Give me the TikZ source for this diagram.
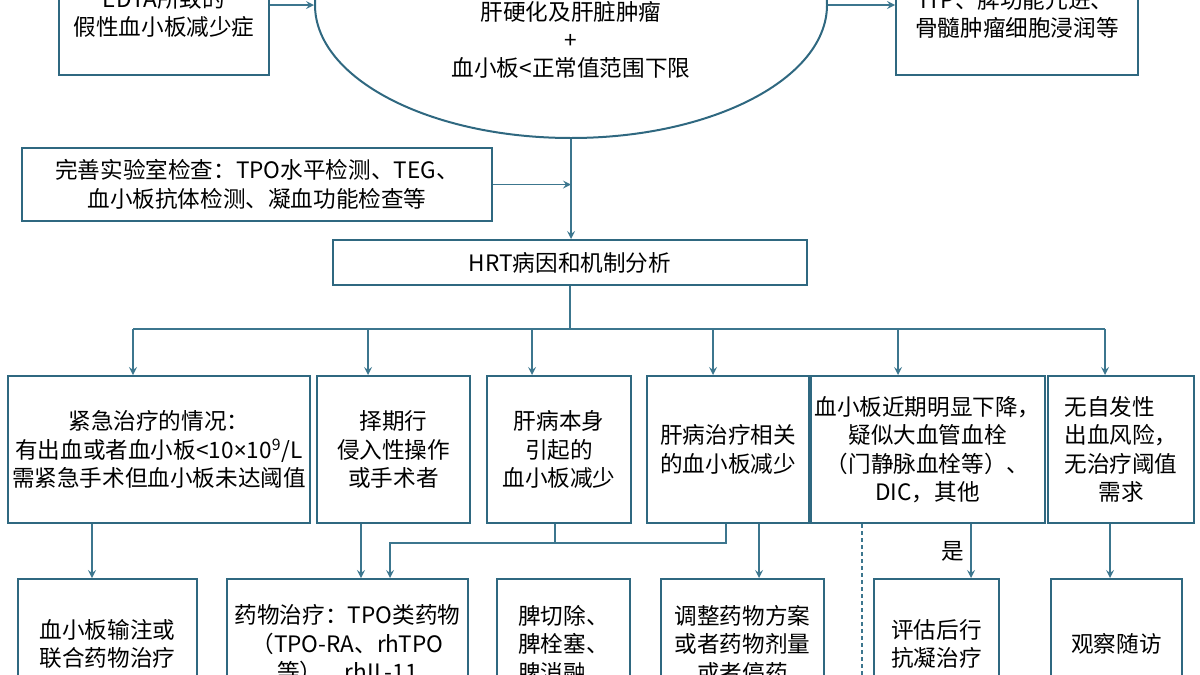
\documentclass[tikz,border=0pt]{standalone}
\usepackage{fontspec}
\setmainfont{Noto Sans CJK SC}
\newfontfamily\latinfont{Noto Sans}
\usepackage{tikz}
\usetikzlibrary{calc,arrows,shapes.geometric}
\definecolor{boxcol}{RGB}{47,104,128}
\definecolor{wirecol}{RGB}{60,118,142}

\begin{document}
\begin{tikzpicture}[x=0.5pt, y=-0.5pt, >=stealth,
	box/.style={draw=boxcol, line width=1pt, fill=white, align=center,
	inner sep=2pt, font=\fontsize{11.3pt}{14.25pt}\selectfont},
	row/.style={box, minimum height=73.5pt},
	leaf/.style={box, minimum height=65pt},
	txt/.style={align=center, inner sep=0pt, font=\fontsize{11.3pt}{14pt}\selectfont},
	link/.style={draw=wirecol, line width=0.75pt}]

\useasboundingbox (0,0) rectangle (1200,675);
\clip (0,0) rectangle (1200,675);

% top of the chart
\node[box, minimum width=105pt, minimum height=62pt] (edta) at (164,13)
	{EDTA所致的\\假性血小板减少症};
\node[box, minimum width=121pt, minimum height=61pt] (itp) at (1017,14)
	{ITP、脾功能亢进、\\骨髓肿瘤细胞浸润等};
\node[draw=boxcol, line width=1pt, ellipse, inner sep=0pt,
	minimum width=256pt, minimum height=133pt] (main) at (571,5) {};
\node[txt] (maintxt) at (571,39.5) {肝硬化及肝脏肿瘤\\+\\血小板<正常值范围下限};
\node[box, minimum width=235pt, minimum height=36.5pt] (lab) at (257,184.5)
	{完善实验室检查：TPO水平检测、TEG、\\血小板抗体检测、凝血功能检查等};
\node[box, minimum width=237pt, minimum height=22.5pt] (hrt) at (570,262.5)
	{HRT病因和机制分析};

% causes
\node[row, minimum width=151pt] (b1) at (159,449.5)
	{紧急治疗的情况：\\有出血或者血小板<10{\latinfont ×}10\textsuperscript{9}/L\\需紧急手术但血小板未达阈值};
\node[row, minimum width=76.5pt] (b2) at (393.5,449.5) {择期行\\侵入性操作\\或手术者};
\node[row, minimum width=72pt] (b3) at (559,449.5) {肝病本身\\引起的\\血小板减少};
\node[row, minimum width=81pt] (b4) at (728,449.5) {肝病治疗相关\\的血小板减少};
\node[row, minimum width=113.5pt] (b5) at (927.5,449.5)
	{血小板近期明显下降，\\疑似大血管血栓\\（门静脉血栓等）、\\DIC，其他};
\node[row, minimum width=73pt, align=left] (b6) at (1121,449.5)
	{无自发性\\出血风险，\\无治疗阈值\\\hspace{1.5em}需求};

% treatments
\node[leaf, minimum width=89.5pt] (aa) at (107.5,644) {血小板输注或\\联合药物治疗};
\node[leaf, minimum width=120.5pt] (bb) at (347.5,644)
	{药物治疗：TPO类药物\\（TPO-RA、rhTPO\\等）、rhIL-11};
\node[leaf, minimum width=66.5pt, align=left] (cc) at (563.5,644) {脾切除、\\脾栓塞、\\脾消融};
\node[leaf, minimum width=81.5pt] (dd) at (742.5,644) {调整药物方案\\或者药物剂量\\或者停药};
\node[leaf, minimum width=62.5pt] (ee) at (936.5,644) {评估后行\\抗凝治疗};
\node[leaf, minimum width=65.5pt] (ff) at (1116.5,644) {观察随访};
\coordinate (no) at (862,700);

% connectors
\draw[link,->] (edta.east |- main.west) -- (main.west);
\draw[link,->] (main.east) -- (main.east -| itp.west);
\draw[link,->] (main.south) -- (main.south |- hrt.north);
\draw[link,->] (lab.east) -- (lab.east -| main.south);
\draw[link] (hrt.south) -- ++(0,43) coordinate (fork);
\draw[link] ([xshift=-13pt]b1.north |- fork) -- ([xshift=-8pt]b6.north |- fork);
\draw[link,->] ([xshift=-13pt]b1.north |- fork) -- ([xshift=-13pt]b1.north);
\draw[link,->] ([xshift=-12.75pt]b2.north |- fork) -- ([xshift=-12.75pt]b2.north);
\draw[link,->] ([xshift=-13.5pt]b3.north |- fork) -- ([xshift=-13.5pt]b3.north);
\draw[link,->] ([xshift=-7.5pt]b4.north |- fork) -- ([xshift=-7.5pt]b4.north);
\draw[link,->] ([xshift=-14.75pt]b5.north |- fork) -- ([xshift=-14.75pt]b5.north);
\draw[link,->] ([xshift=-8pt]b6.north |- fork) -- ([xshift=-8pt]b6.north);

\draw[link,->] ([xshift=-7.75pt]aa.north |- b1.south) -- ([xshift=-7.75pt]aa.north);
\draw[link,->] ([xshift=6.75pt]bb.north |- b2.south) -- ([xshift=6.75pt]bb.north);
\draw[link] ([xshift=-2pt]b3.south) -- ++(0,19);
\draw[link,->] ([xshift=-1pt]b4.south) -- ++(0,19) -| ([xshift=21.25pt]bb.north);
\draw[link,->] ([xshift=8.25pt]dd.north |- b4.south) -- ([xshift=8.25pt]dd.north);
\draw[link,->] ([xshift=17.25pt]ee.north |- b5.south) --
	node[left, txt, inner sep=3pt] {是} ([xshift=17.25pt]ee.north);
\draw[link, dash pattern=on 2pt off 1.5pt] (b5.south -| no) -- (no);
\draw[link,->] ([xshift=-3.25pt]ff.north |- b6.south) -- ([xshift=-3.25pt]ff.north);
\end{tikzpicture}
\end{document}
